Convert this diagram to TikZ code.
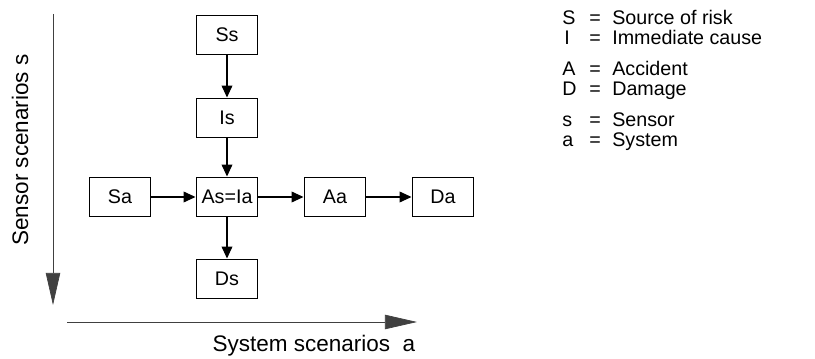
\documentclass[tikz,border=0pt]{standalone}
\usepackage{fontspec}
\setmainfont{Liberation Sans}
\usetikzlibrary{arrows.meta}

\begin{document}
\begin{tikzpicture}[x=0.025cm, y=-0.025cm, box/.style={draw, line width=1.4pt, minimum width=1.525cm, minimum height=0.975cm, inner sep=0pt, font=\fontsize{14}{16}\selectfont}, flow/.style={-{Triangle[length=3mm, width=2.7mm]}, line width=0.9pt}, axis/.style={-{Triangle[length=8mm, width=3.6mm]}, line width=0.5pt, black!75}, label/.style={font=\fontsize{16}{19}\selectfont}, note/.style={anchor=base west, inner sep=0pt, font=\fontsize{14}{16}\selectfont}]

\useasboundingbox (0,0) rectangle (815,359);

% scenario boxes
\node[box] (Ss) at (227,35) {Ss}; \node[box] (Is) at (227,118) {Is};
\node[box] (AsIa) at (227,197) {As=Ia}; \node[box] (Ds) at (227,279) {Ds};
\node[box] (Sa) at (120,197) {Sa}; \node[box] (Aa) at (335,197) {Aa}; \node[box] (Da) at (443,197) {Da};

\draw[flow] (Ss) -- (Is); \draw[flow] (Is) -- (AsIa); \draw[flow] (AsIa) -- (Ds);
\draw[flow] (Sa) -- (AsIa); \draw[flow] (AsIa) -- (Aa); \draw[flow] (Aa) -- (Da);

% axes
\coordinate (sTop) at (53,14); \coordinate (sEnd) at (53,305);
\coordinate (aStart) at (67,322); \coordinate (aEnd) at (417,322);
\draw[axis] (sTop) -- (sEnd); \draw[axis] (aStart) -- (aEnd);
\node[label, rotate=90] (sLabel) at (20,150) {Sensor scenarios s};
\node[label] (aLabel) at (314,346) {System scenarios\ \ a};

% key
\node[note] (kS) at (562,25) {S}; \node[note] (eqS) at (589,25) {=}; \node[note] (tS) at (612,25) {Source of risk};
\node[note] (kI) at (564,45) {I}; \node[note] (eqI) at (589,45) {=}; \node[note] (tI) at (612,45) {Immediate cause};
\node[note] (kA) at (562,76) {A}; \node[note] (eqA) at (589,76) {=}; \node[note] (tA) at (612,76) {Accident};
\node[note] (kD) at (562,96) {D}; \node[note] (eqD) at (589,96) {=}; \node[note] (tD) at (612,96) {Damage};
\node[note] (ks) at (562,127) {s}; \node[note] (eqs) at (589,127) {=}; \node[note] (ts) at (612,127) {Sensor};
\node[note] (ka) at (562,147) {a}; \node[note] (eqa) at (589,147) {=}; \node[note] (ta) at (612,147) {System};
\end{tikzpicture}
\end{document}
